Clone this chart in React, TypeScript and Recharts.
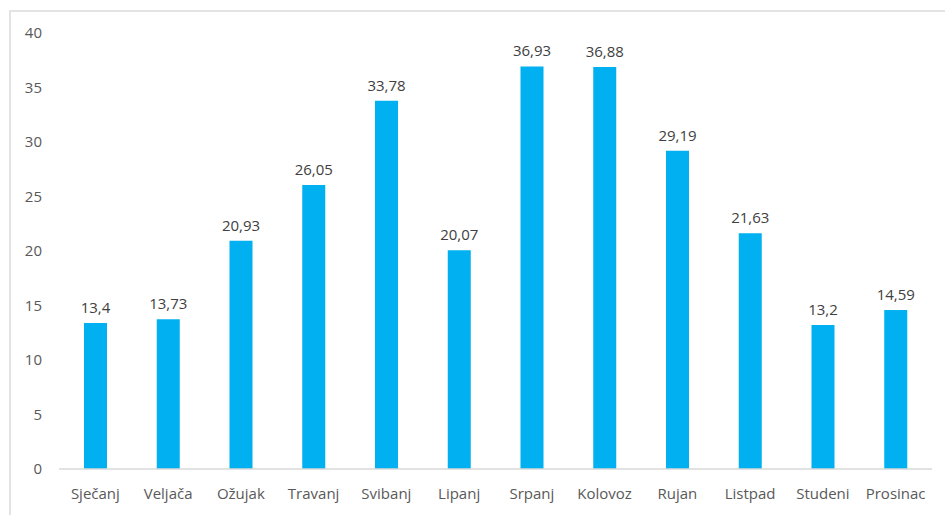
import React from 'react';
import { BarChart, Bar, XAxis, YAxis, LabelList } from 'recharts';

// months (Croatian) and monthly values
const MONTHS = [
  'Sječanj', 'Veljača', 'Ožujak', 'Travanj', 'Svibanj', 'Lipanj',
  'Srpanj', 'Kolovoz', 'Rujan', 'Listpad', 'Studeni', 'Prosinac',
];
const VALUES = [13.4, 13.73, 20.93, 26.05, 33.78, 20.07, 36.93, 36.88, 29.19, 21.63, 13.2, 14.59];
const Y_TICKS = [0, 5, 10, 15, 20, 25, 30, 35, 40];

const BAR_COLOR = '#00B0F0';
const FONT = '"Open Sans", "Noto Sans", sans-serif';

const data = MONTHS.map((m, i) => ({ month: m, value: VALUES[i] }));

const fmt = (v: any) => String(v).replace('.', ',');

const App: React.FC = () => {
  return (
    <div style={{ position: 'fixed', top: 0, left: 0, width: 945, height: 515, background: '#fff' }}>
      {/* light frame, only top and left edges visible */}
      <div
        style={{
          position: 'absolute',
          left: 9,
          top: 10,
          right: 0,
          bottom: 0,
          borderTop: '2px solid #e3e3e3',
          borderLeft: '2px solid #e3e3e3',
        }}
      />
      <div style={{ position: 'absolute', left: 0, top: 0 }}>
        <BarChart
          width={945}
          height={515}
          data={data}
          margin={{ top: 33, right: 13, bottom: 16, left: 0 }}
        >
          <XAxis
            dataKey="month"
            axisLine={{ stroke: '#d9d9d9', strokeWidth: 1.5 }}
            tickLine={false}
            tickSize={0}
            tickMargin={19}
            height={30}
            interval={0}
            tick={{ fill: '#595959', fontSize: 15, fontFamily: FONT }}
          />
          <YAxis
            type="number"
            domain={[0, 40]}
            ticks={Y_TICKS}
            axisLine={false}
            tickLine={false}
            tickSize={0}
            tickMargin={17}
            width={59}
            tick={{ fill: '#595959', fontSize: 15, fontFamily: FONT }}
          />
          <Bar dataKey="value" fill={BAR_COLOR} barSize={23} isAnimationActive={false}>
            <LabelList
              dataKey="value"
              position="top"
              offset={10}
              formatter={fmt}
              style={{ fill: '#404040', fontSize: 15, fontFamily: FONT }}
            />
          </Bar>
        </BarChart>
      </div>
    </div>
  );
};

export default App;
